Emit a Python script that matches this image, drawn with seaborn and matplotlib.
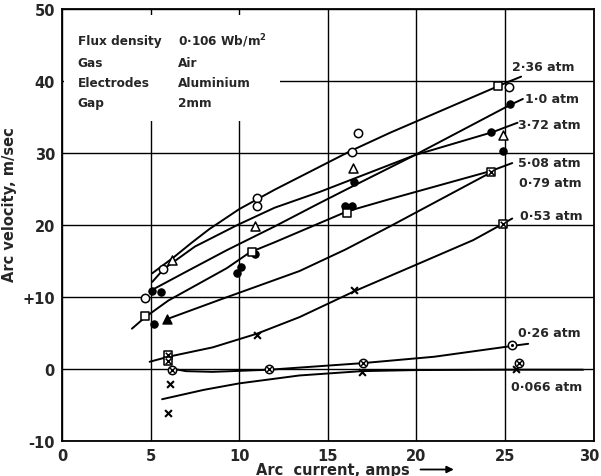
import matplotlib
matplotlib.use("Agg")
import matplotlib.pyplot as plt
import matplotlib.transforms as mtransforms
from matplotlib.patches import Rectangle
import seaborn as sns

# ---------------- data ----------------
# fitted curves, one per pressure
c236_x = [5.1, 6.3, 7.3, 8.3, 10.0, 12.0, 16.3, 18.5, 25.0, 25.9]
c236_y = [13.3, 15.5, 17.5, 19.4, 22.2, 24.9, 30.3, 32.8, 39.7, 40.6]
c10_x = [5.1, 7.0, 9.3, 12.0, 14.5, 16.5, 19.9, 25.3, 26.0]
c10_y = [11.0, 13.5, 16.5, 19.8, 23.0, 25.5, 29.7, 36.7, 37.5]
c372_x = [5.1, 5.75, 7.5, 9.9, 12.0, 14.55, 19.9, 24.3, 25.7]
c372_y = [12.1, 13.9, 17.0, 20.0, 22.4, 24.6, 29.7, 32.9, 34.2]
c508_x = [3.95, 4.7, 6.0, 9.3, 10.6, 12.0, 16.1, 18.5, 24.2, 25.4]
c508_y = [5.6, 7.2, 9.5, 14.0, 16.2, 17.6, 21.9, 23.6, 27.5, 28.6]
c079_x = [5.9, 9.0, 13.4, 16.0, 18.5, 24.2]
c079_y = [6.9, 9.7, 13.6, 16.6, 19.8, 27.3]
c053_x = [4.95, 6.0, 8.5, 11.0, 13.4, 16.5, 20.0, 23.2, 24.9, 25.4]
c053_y = [1.0, 1.7, 3.0, 4.9, 7.2, 10.8, 14.5, 17.9, 20.2, 20.9]
c026_x = [6.1, 7.0, 8.5, 11.7, 16.9, 21.0, 25.4, 26.3]
c026_y = [0.1, -0.3, -0.4, -0.1, 0.8, 1.7, 3.2, 3.5]
c0066_x = [5.65, 8.0, 10.0, 13.4, 16.9, 20.0, 25.0, 29.4]
c0066_y = [-4.2, -2.9, -2.0, -0.9, -0.3, -0.15, -0.1, -0.1]

# measured points by symbol
open_circle_x = [4.7, 5.7, 11.0, 11.0, 16.35, 16.7, 25.2]
open_circle_y = [9.9, 13.9, 23.8, 22.7, 30.1, 32.8, 39.1]
filled_circle_x = [5.1, 5.6, 5.2, 9.9, 10.1, 10.9, 15.95, 16.35, 16.5, 24.2, 24.9, 25.3]
filled_circle_y = [10.8, 10.7, 6.2, 13.3, 14.1, 16.0, 22.6, 22.6, 26.0, 32.9, 30.3, 36.8]
open_tri_x = [6.2, 10.9, 16.4, 24.9]
open_tri_y = [15.1, 19.8, 27.9, 32.5]
filled_tri_x = [5.9]
filled_tri_y = [6.9]
open_square_x = [4.7, 10.7, 16.1, 24.6]
open_square_y = [7.3, 16.3, 21.7, 39.3]
crossed_square_x = [6.0, 6.0, 24.2, 24.9]
crossed_square_y = [1.9, 1.1, 27.4, 20.2]
cross_x = [6.1, 6.0, 11.0, 16.5, 16.9, 25.6]
cross_y = [-2.1, -6.1, 4.7, 11.0, -0.4, 0.0]
crossed_circle_x = [6.2, 11.7, 17.0, 25.8]
crossed_circle_y = [-0.1, 0.0, 0.8, 0.9]
dotted_circle_x = [25.4]
dotted_circle_y = [3.3]

# curve labels
label_text = ["2·36 atm", "1·0 atm", "3·72 atm", "5·08 atm", "0·79 atm",
              "0·53 atm", "0·26 atm", "0·066 atm"]
label_x = [25.4, 26.1, 25.75, 25.75, 25.8, 25.85, 25.75, 25.35]
label_y = [42.0, 37.6, 34.0, 28.7, 25.9, 21.3, 5.0, -2.4]

info_keys = ["Flux density", "Gas", "Electrodes", "Gap"]
info_vals = ["0·106 Wb/m$^\\mathbf{2}$", "Air", "Aluminium", "2mm"]
info_y = [45.6, 42.6, 39.8, 37.0]

x_ticks = [0, 5, 10, 15, 20, 25, 30]
x_ticklabels = ["0", "5", "10", "15", "20", "25", "30"]
y_ticks = [-10, 0, 10, 20, 30, 40, 50]
y_ticklabels = ["-10", "0", "+10", "20", "30", "40", "50"]

# ---------------- figure ----------------
sns.set_theme(style="white")
plt.rcParams["font.family"] = ["DejaVu Sans"]
plt.rcParams["mathtext.default"] = "regular"

fig = plt.figure(figsize=(6.01, 4.77), dpi=100)
ax = fig.add_axes([0.103, 0.0734, 0.885, 0.9057])

ax.set_xlim(0, 30)
ax.set_ylim(-10, 50)
ax.set_xticks(x_ticks)
ax.set_yticks(y_ticks)
ax.set_xticklabels(x_ticklabels, fontsize=10.5, fontweight="bold")
ax.set_yticklabels(y_ticklabels, fontsize=10.5, fontweight="bold")
ax.tick_params(axis="both", direction="out", length=3, width=1, color="black", pad=2)
# keep the last x tick label inside the canvas
last = ax.get_xticklabels()[-1]
last.set_transform(last.get_transform() + mtransforms.ScaledTranslation(-5 / 100, 0, fig.dpi_scale_trans))
ax.set_axisbelow(True)
ax.grid(True, color="black", linewidth=1.0)
for s in ax.spines.values():
    s.set_color("black")
    s.set_linewidth(1.3)

# white box behind the information text
ax.add_patch(Rectangle((0.004, 0.741), 0.406, 0.244, transform=ax.transAxes,
                       facecolor="white", edgecolor="none", zorder=1))

curves = [(c236_x, c236_y), (c10_x, c10_y), (c372_x, c372_y), (c508_x, c508_y),
          (c079_x, c079_y), (c053_x, c053_y), (c026_x, c026_y), (c0066_x, c0066_y)]
for cx, cy in curves:
    sns.lineplot(x=cx, y=cy, ax=ax, color="black", linewidth=1.4,
                 estimator=None, sort=False, zorder=3)

mk = dict(ax=ax, zorder=4, legend=False)
sns.scatterplot(x=open_circle_x, y=open_circle_y, marker="o", s=36,
                facecolor="white", edgecolor="black", linewidth=1.1, **mk)
sns.scatterplot(x=filled_circle_x, y=filled_circle_y, marker="o", s=28,
                color="black", edgecolor="black", linewidth=0.8, **mk)
sns.scatterplot(x=open_tri_x, y=open_tri_y, marker="^", s=42,
                facecolor="white", edgecolor="black", linewidth=1.1, **mk)
sns.scatterplot(x=filled_tri_x, y=filled_tri_y, marker="^", s=42,
                color="black", edgecolor="black", linewidth=1.0, **mk)
sns.scatterplot(x=open_square_x, y=open_square_y, marker="s", s=36,
                facecolor="white", edgecolor="black", linewidth=1.1, **mk)
sns.scatterplot(x=crossed_square_x, y=crossed_square_y, marker="s", s=36,
                facecolor="white", edgecolor="black", linewidth=1.1, **mk)
sns.scatterplot(x=crossed_square_x, y=crossed_square_y, marker="x", s=16,
                color="black", linewidth=1.1, **mk)
sns.scatterplot(x=cross_x, y=cross_y, marker="x", s=24,
                color="black", linewidth=1.5, **mk)
sns.scatterplot(x=crossed_circle_x, y=crossed_circle_y, marker="o", s=36,
                facecolor="white", edgecolor="black", linewidth=1.1, **mk)
sns.scatterplot(x=crossed_circle_x, y=crossed_circle_y, marker="x", s=13,
                color="black", linewidth=1.0, **mk)
sns.scatterplot(x=dotted_circle_x, y=dotted_circle_y, marker="o", s=36,
                facecolor="white", edgecolor="black", linewidth=1.1, **mk)
sns.scatterplot(x=dotted_circle_x, y=dotted_circle_y, marker="o", s=5,
                color="black", linewidth=0, **mk)

for t, lx, ly in zip(label_text, label_x, label_y):
    ax.text(lx, ly, t, fontsize=9, fontweight="bold", ha="left", va="center", zorder=5)

for k, v, yy in zip(info_keys, info_vals, info_y):
    ax.text(0.9, yy, k, fontsize=8.7, fontweight="bold", ha="left", va="center", zorder=5)
    ax.text(6.55, yy, v, fontsize=8.7, fontweight="bold", ha="left", va="center", zorder=5)

ax.set_ylabel("Arc velocity, m/sec", fontsize=10.5, fontweight="bold")
ax.yaxis.set_label_coords(-0.085, 0.549)
ax.text(0.509, -0.066, "Arc  current, amps", transform=ax.transAxes,
        fontsize=10.5, fontweight="bold", ha="center", va="center")
ax.annotate("", xy=(0.742, -0.066), xytext=(0.669, -0.066), xycoords="axes fraction",
            arrowprops=dict(arrowstyle="-|>", color="black", lw=1.3,
                            mutation_scale=10), annotation_clip=False)

fig.savefig("out.png", dpi=100)
